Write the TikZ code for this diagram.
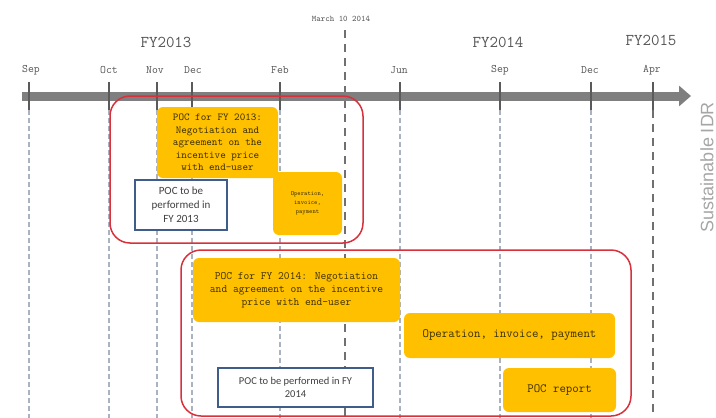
\documentclass[tikz,border=0pt]{standalone}
\usepackage{fontspec}
\setmainfont{Liberation Serif}
\newfontfamily\calf{Carlito}
\newfontfamily\sansf{Liberation Sans}
\usetikzlibrary{arrows.meta}
\definecolor{axisgray}{HTML}{7F7F7F}
\definecolor{tickgray}{HTML}{5A5A5A}
\definecolor{lightdash}{HTML}{A9B2C3}
\definecolor{darkdash}{HTML}{707070}
\definecolor{poc}{HTML}{FFC000}
\definecolor{poctext}{HTML}{3A2E00}
\definecolor{redframe}{HTML}{D8313C}
\definecolor{bluebox}{HTML}{3F5C8A}
\definecolor{labgray}{HTML}{555555}
\tikzset{
  tickline/.style={draw=tickgray, line width=1.6pt},
  lightline/.style={draw=lightdash, line width=1.1pt, dash pattern=on 5pt off 3pt},
  darkline/.style={draw=darkdash, line width=1.6pt, dash pattern=on 8pt off 6pt},
  monthlab/.style={font=\ttfamily\fontsize{11.4}{12}\selectfont, text=labgray, inner sep=0pt},
  fylab/.style={font=\ttfamily\fontsize{16.5}{18}\selectfont, text=labgray, inner sep=0pt},
  pocbox/.style={fill=poc, rounded corners=6pt, inner sep=2pt, align=center, text=poctext},
  bluebx/.style={draw=bluebox, line width=1.6pt, fill=white, inner sep=2pt, align=center, font=\calf\fontsize{11}{14}\selectfont, text=black!75},
  frame/.style={draw=redframe, line width=1.5pt, rounded corners=20pt},
}
\begin{document}
\begin{tikzpicture}[x=1pt,y=-1pt]
\useasboundingbox (0,0) rectangle (716,418);
% month coordinates
\foreach \n/\x in {mSep/29,mOct/109,mNov/157,mDec/192,mFeb/280,mJun/400,mSepB/500,mDecB/591}{
  \coordinate (\n) at (\x,96);
  \draw[lightline] (\x,110) -- (\x,418);
}
\coordinate (mApr) at (653,96);
\coordinate (mMar) at (345,96);
\draw[darkline] (653,110) -- (653,418);
\draw[darkline] (345,30) -- (345,418);
% axis
\draw[line width=9pt, axisgray, -{Triangle[length=12pt,width=20pt]}] (22,96) -- (691,96);
\foreach \n in {mSep,mOct,mNov,mDec,mFeb,mJun,mSepB,mDecB,mApr}{
  \draw[tickline] ([yshift=-14pt]\n) -- ([yshift=14pt]\n);
}
% labels
\node[monthlab] (lSep) at (31,70) {Sep};
\node[monthlab] (lOct) at (109,70) {Oct};
\node[monthlab] (lNov) at (155,70) {Nov};
\node[monthlab] (lDec) at (193,70) {Dec};
\node[monthlab] (lFeb) at (280,70) {Feb};
\node[monthlab] (lJun) at (399,70) {Jun};
\node[monthlab] (lSepB) at (500,70) {Sep};
\node[monthlab] (lDecB) at (590,70) {Dec};
\node[monthlab] (lApr) at (652,70) {Apr};
\node[fylab] (fy13) at (166,42) {FY2013};
\node[fylab] (fy14) at (498,42) {FY2014};
\node[fylab] (fy15) at (651,40) {FY2015};
\node[font=\ttfamily\fontsize{8.5}{9}\selectfont, text=labgray, inner sep=0pt] (mar) at (341,19) {March 10 2014};
\node[rotate=90, font=\sansf\fontsize{18}{20}\selectfont, text=black!35, inner sep=0pt] (sidr) at (707,167) {Sustainable IDR};
% red frames
\draw[frame] (110,96) rectangle (363,243);
\draw[frame] (181,250) rectangle (631,416);
% orange boxes
\node[pocbox, minimum width=121pt, minimum height=71pt, font=\ttfamily\fontsize{10.6}{12.5}\selectfont] (p13) at (217.5,142.5)
  {POC for FY 2013:\\Negotiation and\\agreement on the\\incentive price\\with end-user};
\node[pocbox, minimum width=69pt, minimum height=63pt, font=\ttfamily\fontsize{6.3}{9}\selectfont] (op13) at (307.5,203.5)
  {Operation,\\invoice,\\payment};
\node[pocbox, minimum width=207pt, minimum height=64pt, font=\ttfamily\fontsize{11.2}{13}\selectfont] (p14) at (296.5,290)
  {POC for FY 2014: Negotiation\\and agreement on the incentive\\price with end-user};
\node[pocbox, minimum width=211pt, minimum height=45pt, font=\ttfamily\fontsize{12.5}{13}\selectfont] (op14) at (509.5,335.5)
  {Operation,\ invoice,\ payment};
\node[pocbox, minimum width=113pt, minimum height=44pt, font=\ttfamily\fontsize{12.5}{13}\selectfont] (rep) at (559.5,390)
  {POC report};
% blue boxes
\node[bluebx, minimum width=92pt, minimum height=50pt] (b13) at (181,205)
  {POC to be\\performed in\\FY 2013};
\node[bluebx, minimum width=155pt, minimum height=39pt, font=\calf\fontsize{10.5}{13}\selectfont] (b14) at (295.5,387.5)
  {POC to be performed in FY\\2014};
\end{tikzpicture}
\end{document}
